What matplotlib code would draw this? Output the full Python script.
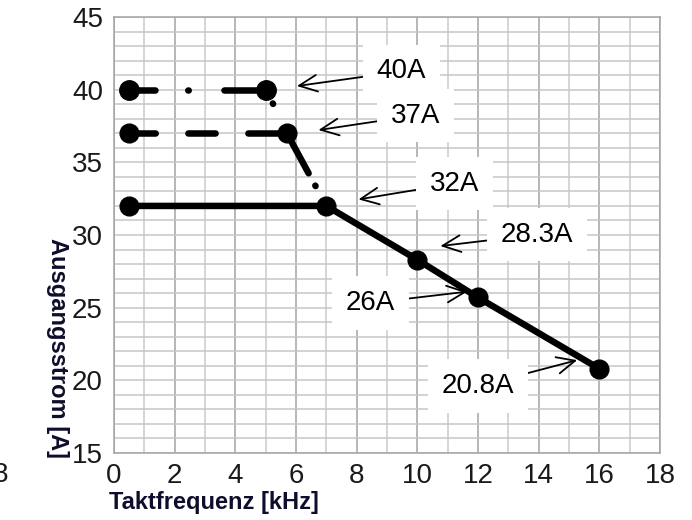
import numpy as np
import matplotlib
matplotlib.use("Agg")
from matplotlib import pyplot as plt

plt.rcParams['font.family'] = ['Liberation Sans', 'DejaVu Sans']
plt.rcParams['lines.scale_dashes'] = False

# data
freq_40 = [0.5, 5.0, 7.0]
curr_40 = [40, 40, 32]
freq_37 = [0.5, 5.7, 7.0]
curr_37 = [37, 37, 32]
freq_main = [0.5, 7.0, 10.0, 12.0, 16.0]
curr_main = [32, 32, 28.3, 25.7, 20.8]

labels = ['40A', '37A', '32A', '28.3A', '26A', '20.8A']
x_ticks = [0, 2, 4, 6, 8, 10, 12, 14, 16, 18]
y_ticks = [15, 20, 25, 30, 35, 40, 45]

fig = plt.figure(figsize=(6.92, 5.2), dpi=100)
ax = fig.add_axes([114 / 692, 1 - 453 / 520, 546 / 692, 436 / 520])

lw = 4.7
ink = '#000000'

# 40A curve: dash-dot look, pattern restarts on each segment
ax.plot(freq_40[:2], curr_40[:2], color=ink, lw=lw, dash_capstyle='round',
        linestyle=(0, (18.7, 23.6, 0.36, 25.7, 144, 7.2)), zorder=3)
ax.plot(freq_40[1:], curr_40[1:], color=ink, lw=lw, dash_capstyle='round',
        linestyle=(132.8, (0.36, 143.64)), zorder=3)
ax.plot(freq_40[:2], curr_40[:2], 'o', color=ink, ms=14, zorder=4)

# 37A curve: dashed
ax.plot(freq_37[:2], curr_37[:2], color=ink, lw=lw, dash_capstyle='round',
        linestyle=(0, (18.9, 23.5, 19.6, 23.6, 144, 7.2)), zorder=3)
ax.plot(freq_37[1:], curr_37[1:], color=ink, lw=lw, dash_capstyle='round',
        linestyle=(0, (32.8, 10.1, 0.36, 72)), zorder=3)
ax.plot(freq_37[:2], curr_37[:2], 'o', color=ink, ms=13.5, zorder=4)

# 32A solid curve
ax.plot(freq_main, curr_main, '-o', color=ink, lw=lw, ms=13.5,
        solid_capstyle='round', zorder=4)

# annotations: arrow tip and text centre
tips = [(6.03, 40.25), (6.74, 37.22), (8.06, 32.45), (10.76, 29.24), (11.64, 26.1), (15.27, 21.39)]
txt_pos = [(9.47, 41.25), (9.94, 38.22), (11.22, 33.54), (13.94, 30.03), (8.45, 25.32), (12.0, 19.6)]
for lab, tip, tp in zip(labels, tips, txt_pos):
    ax.annotate(lab, xy=tip, xytext=tp, ha='center', va='center', fontsize=20,
                bbox=dict(boxstyle='square,pad=0.5', fc='white', ec='none'),
                arrowprops=dict(arrowstyle='->,head_length=0.65,head_width=0.3',
                                color=ink, lw=1.3, shrinkA=0, shrinkB=0),
                zorder=5)

ax.set_xlim(0, 18)
ax.set_ylim(15, 45)
ax.set_xticks(x_ticks)
ax.set_xticks(np.arange(1, 18, 2), minor=True)
ax.set_yticks(y_ticks)
ax.set_yticks(np.arange(15, 46, 1), minor=True)
ax.tick_params(which='both', length=0, labelsize=20, colors='#1a1a1a')
ax.tick_params(axis='y', pad=8)
ax.tick_params(axis='x', pad=7)

ax.set_axisbelow(True)
ax.grid(axis='x', which='major', color='#a3a3a3', lw=1.1)
ax.grid(axis='x', which='minor', color='#cacaca', lw=1.1)
ax.grid(axis='y', which='both', color='#c6c6c6', lw=1.1)
for sp in ax.spines.values():
    sp.set_color('#a3a3a3')
    sp.set_linewidth(1.1)

fig.text(214 / 692, 1 - 502 / 520, 'Taktfrequenz [kHz]', ha='center', va='center',
         fontsize=17, fontweight='bold', color='#0e0e2c')
fig.text(57 / 692, 1 - 348 / 520, 'Ausgangsstrom [A]', ha='center', va='center',
         rotation=270, fontsize=17, fontweight='bold', color='#0e0e2c')
# cut-off label at the left edge, as in the reference
fig.text(8 / 692, 1 - 475 / 520, '8', ha='right', va='center', fontsize=20, color='#1a1a1a')

fig.savefig('out.png', dpi=100)
